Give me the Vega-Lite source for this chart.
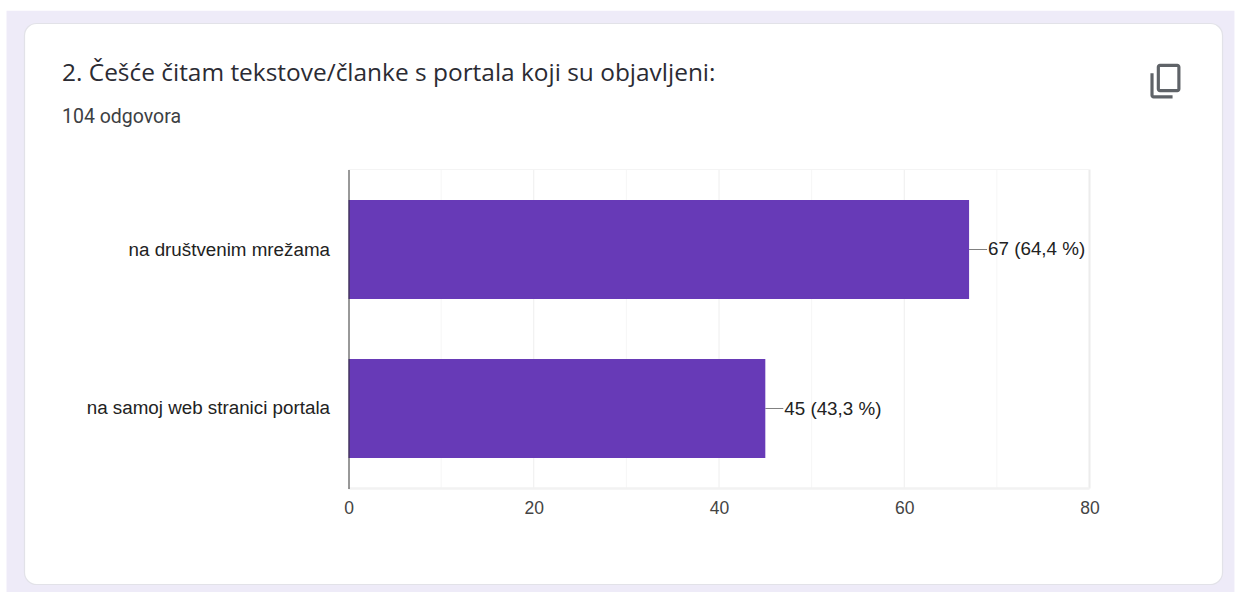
{
"$schema":"https://vega.github.io/schema/vega-lite/v6.json",
"width":741,"height":319,
"autosize":{"type":"none"},
"padding":{"left":348.5,"top":169.5,"right":145.5,"bottom":103.5},
"background":"#ffffff",
"title":{"text":"2. Češće čitam tekstove/članke s portala koji su objavljeni:","subtitle":"104 odgovora","anchor":"start","frame":"group","dx":-286.5,"offset":-117,"font":"Open Sans","fontSize":24.45,"fontWeight":400,"color":"#2b2b33","subtitleFont":"Roboto","subtitleFontSize":19.5,"subtitleColor":"#3c4043","subtitlePadding":22,"zindex":1},
"config":{"view":{"stroke":null}},
"datasets":{
"answers":[{"answer":"na društvenim mrežama","count":67,"label":"67 (64,4 %)"},{"answer":"na samoj web stranici portala","count":45,"label":"45 (43,3 %)"}],
"major":[{"v":20},{"v":40},{"v":60}],
"minor":[{"v":10},{"v":30},{"v":50},{"v":70}]
},
"resolve":{"scale":{"y":"independent"},"axis":{"y":"independent"}},
"layer":[
{"data":{"values":[{"x0":-36.92,"x1":95.65,"y0":-32.6,"y1":149.8}]},
 "mark":{"type":"rect","color":"#eeebf8"},
 "encoding":{"x":{"field":"x0","type":"quantitative","scale":{"domain":[0,80],"nice":false},
   "axis":{"values":[0,20,40,60,80],"title":null,"grid":false,"domain":false,"ticks":false,"labelFont":"Liberation Sans","labelFontSize":17.5,"labelColor":"#444444","labelPadding":11,"labelFlush":false,"zindex":1}},"x2":{"field":"x1"},"y":{"field":"y0","type":"quantitative","scale":{"domain":[0,100]},"axis":null},"y2":{"field":"y1"}}},
{"data":{"values":[{"x0":-34.98,"x1":94.36,"y0":-30.1,"y1":145.77}]},
 "mark":{"type":"rect","color":"#ffffff","stroke":"#e2e2e8","strokeWidth":1.2,"cornerRadius":12},
 "encoding":{"x":{"field":"x0","type":"quantitative","scale":{"domain":[0,80],"nice":false}},"x2":{"field":"x1"},"y":{"field":"y0","type":"quantitative","scale":{"domain":[0,100]},"axis":null},"y2":{"field":"y1"}}},
{"data":{"values":[{"x":88.2,"y":127.7}]},
 "mark":{"type":"point","filled":true,"color":"#5f6368","opacity":1,"size":10,"shape":"M4.5,11H-7.5c-1.1,0,-2,-.9,-2,-2V-5h2V9h12zM-3.5,-11H7.5c1.1,0,2,.9,2,2V5c0,1.1,-.9,2,-2,2H-3.5c-1.1,0,-2,-.9,-2,-2V-9c0,-1.1,.9,-2,2,-2zM-3.5,-9V5H7.5V-9z"},
 "encoding":{"x":{"field":"x","type":"quantitative","scale":{"domain":[0,80],"nice":false}},"y":{"field":"y","type":"quantitative","scale":{"domain":[0,100]},"axis":null}}},
{"data":{"name":"minor"},"mark":{"type":"rule","color":"#f6f6f6","strokeWidth":1},
 "encoding":{"x":{"field":"v","type":"quantitative","scale":{"domain":[0,80],"nice":false}}}},
{"data":{"name":"major"},"mark":{"type":"rule","color":"#eeeeee","strokeWidth":1},
 "encoding":{"x":{"field":"v","type":"quantitative","scale":{"domain":[0,80],"nice":false}}}},
{"data":{"values":[{"v":80}]},"mark":{"type":"rule","color":"#ececec","strokeWidth":2},
 "encoding":{"x":{"field":"v","type":"quantitative","scale":{"domain":[0,80],"nice":false}}}},
{"data":{"values":[{"edge":100}]},"mark":{"type":"rule","color":"#f4f4f4","strokeWidth":1},
 "encoding":{"y":{"field":"edge","type":"quantitative","scale":{"domain":[0,100]},"axis":null}}},
{"data":{"values":[{"edge":0}]},"mark":{"type":"rule","color":"#f2f2f2","strokeWidth":2.5},
 "encoding":{"y":{"field":"edge","type":"quantitative","scale":{"domain":[0,100]},"axis":null}}},
{"data":{"name":"answers"},"mark":{"type":"rule","color":"#808080","strokeWidth":1,"x2Offset":18},
 "encoding":{"x":{"field":"count","type":"quantitative","scale":{"domain":[0,80],"nice":false}},"x2":{"field":"count"},
 "y":{"field":"answer","type":"nominal","sort":null,"scale":{"paddingInner":0.377,"paddingOuter":0.1917},"axis":null}}},
{"data":{"name":"answers"},"mark":{"type":"bar","color":"#673ab7"},
 "encoding":{"x":{"field":"count","type":"quantitative","scale":{"domain":[0,80],"nice":false}},
 "y":{"field":"answer","type":"nominal","sort":null,"scale":{"paddingInner":0.377,"paddingOuter":0.1917},
   "axis":{"title":null,"ticks":false,"domain":true,"domainColor":"#333333","domainWidth":1,"labelFont":"Liberation Sans","labelFontSize":18.8,"labelColor":"#222222","labelPadding":19,"labelLimit":320,"zindex":1}}}},
{"data":{"name":"answers"},"mark":{"type":"text","align":"left","baseline":"middle","dx":19,"font":"Liberation Sans","fontSize":18.8,"color":"#222222"},
 "encoding":{"x":{"field":"count","type":"quantitative","scale":{"domain":[0,80],"nice":false}},
 "y":{"field":"answer","type":"nominal","sort":null,"scale":{"paddingInner":0.377,"paddingOuter":0.1917},"axis":null},
 "text":{"field":"label"}}}
]
}
